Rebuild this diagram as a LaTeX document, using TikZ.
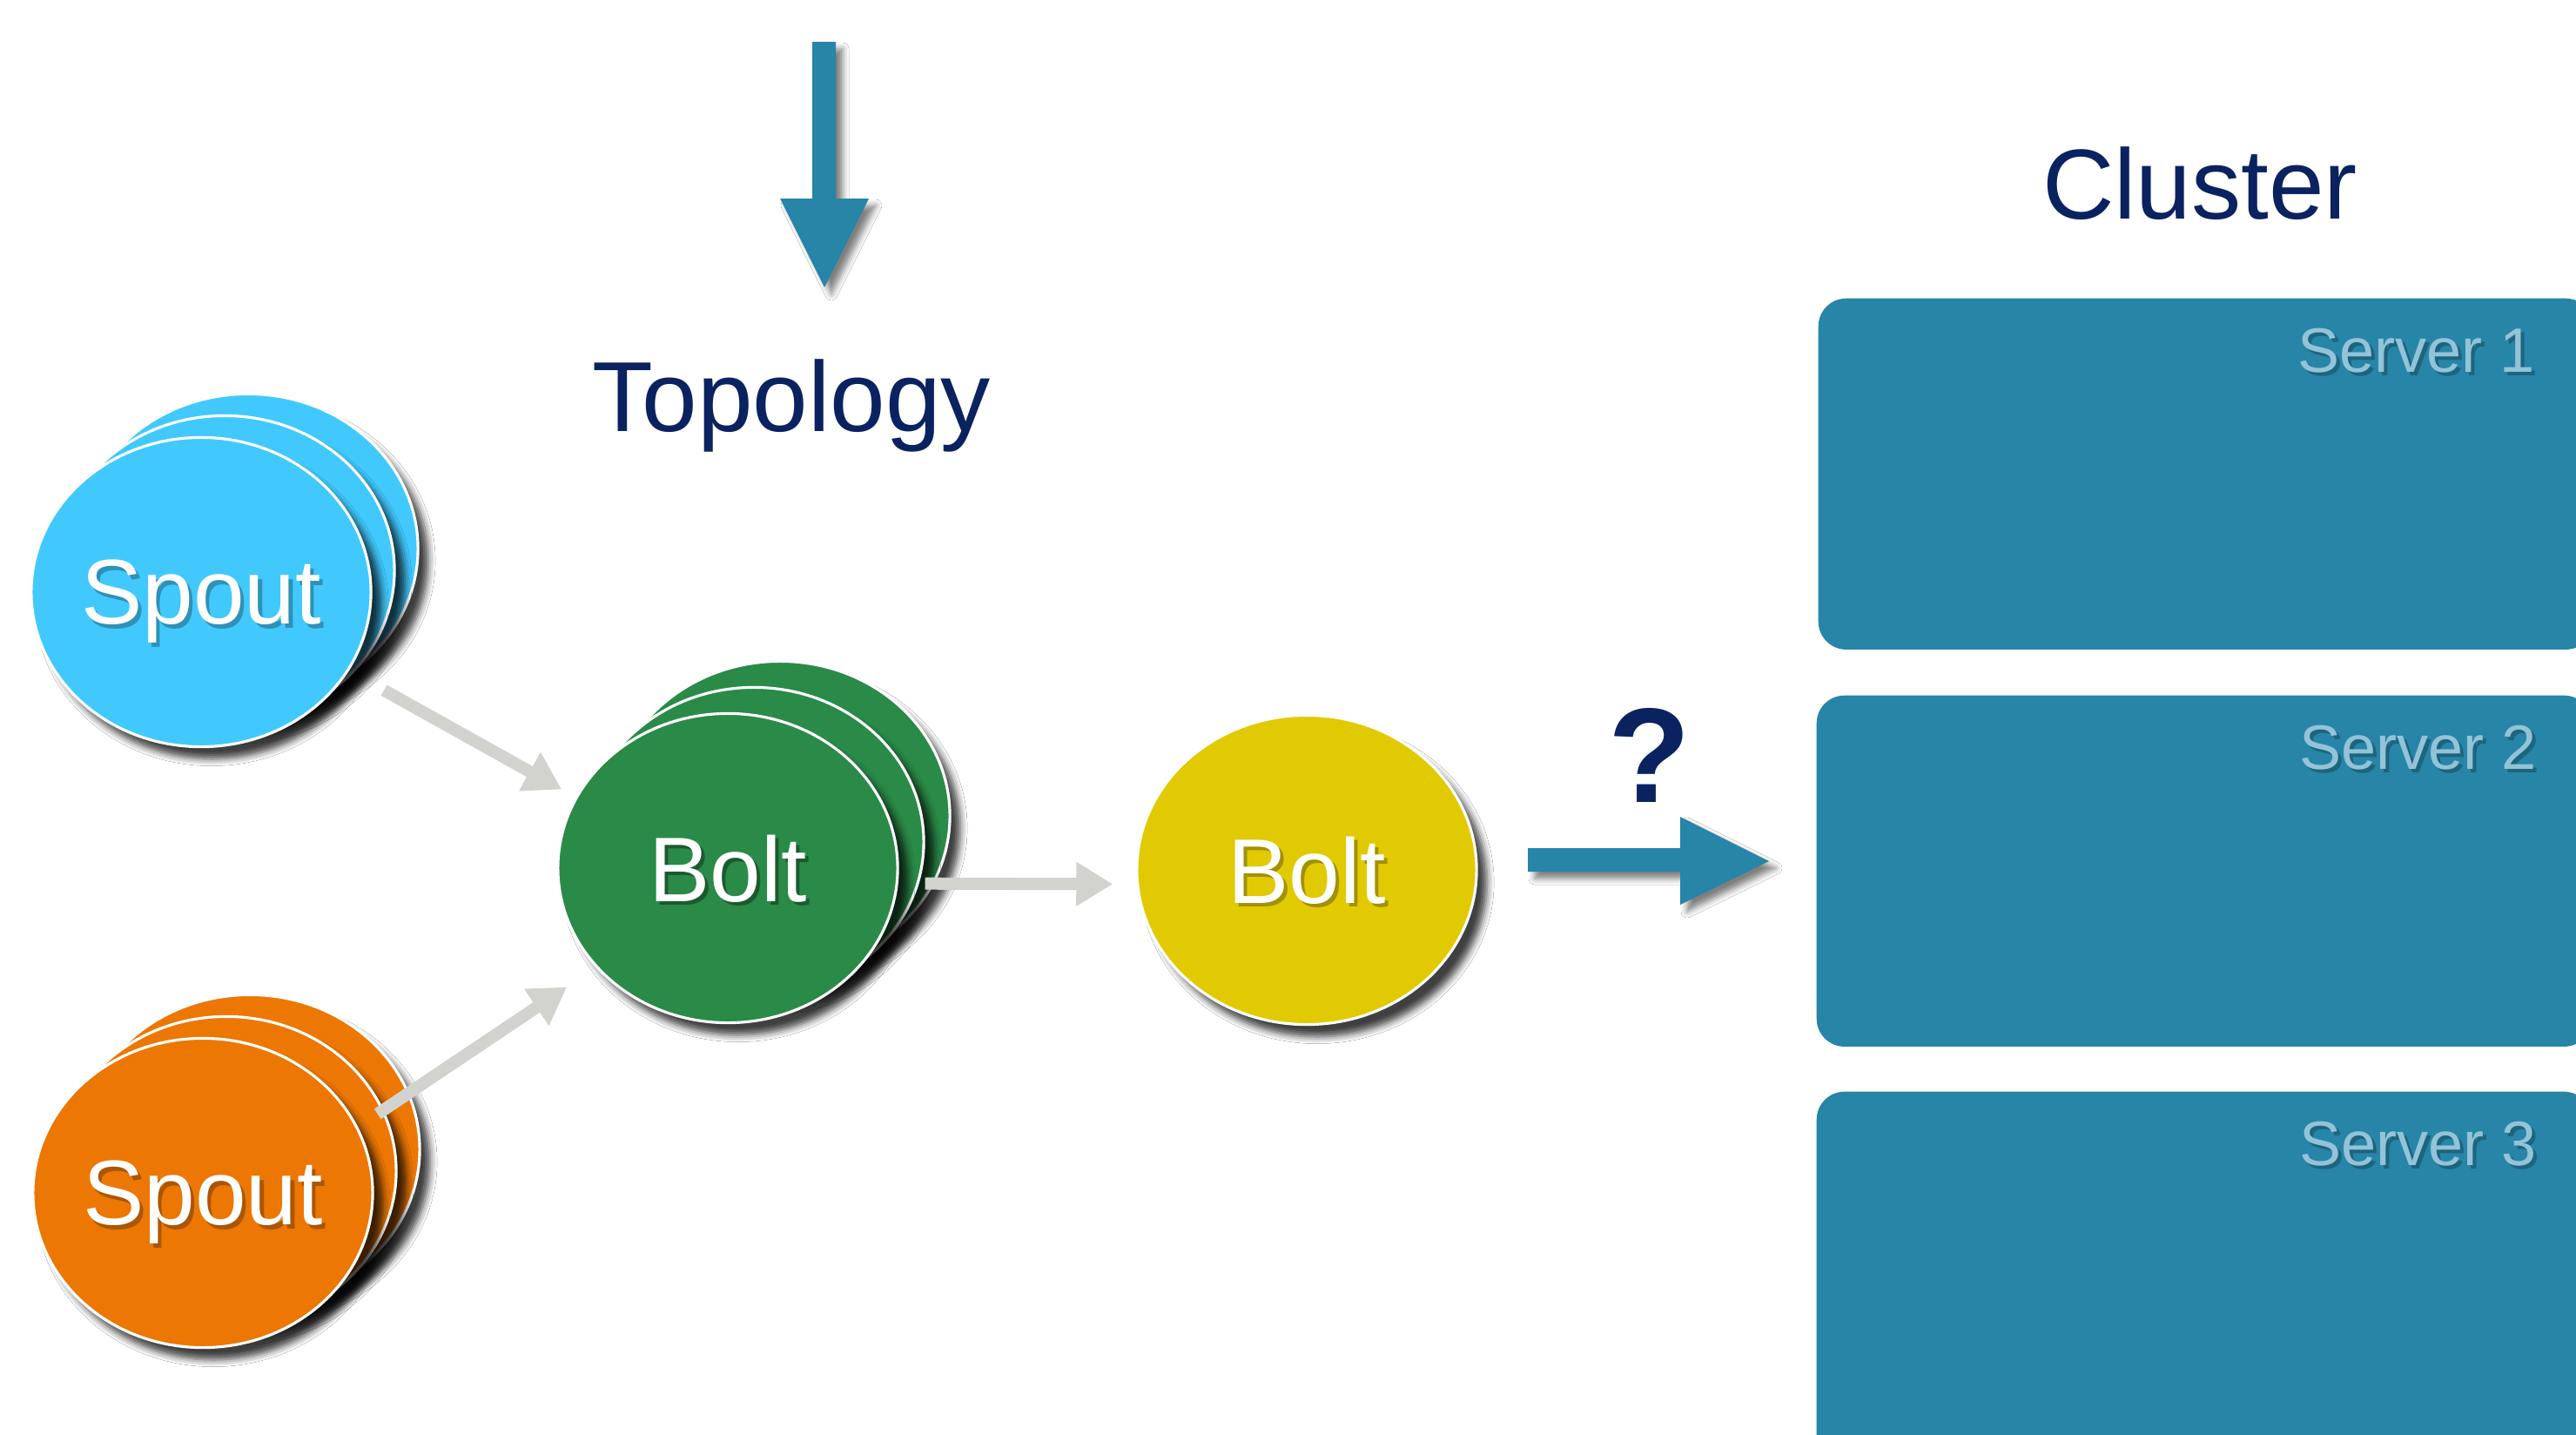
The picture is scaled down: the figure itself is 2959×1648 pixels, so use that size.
\documentclass[tikz,border=0pt]{standalone}
\usepackage{fontspec}
\setmainfont{Liberation Sans}
\usetikzlibrary{shapes.geometric,arrows.meta,shadows.blur,calc}

\definecolor{spoutblue}{HTML}{41C9FE}
\definecolor{spoutorange}{HTML}{EC7703}
\definecolor{boltgreen}{HTML}{2A8A48}
\definecolor{boltyellow}{HTML}{E1CA02}
\definecolor{steel}{HTML}{2785A7}
\definecolor{serverlabel}{HTML}{93C3D8}
\definecolor{navy}{HTML}{0B2260}
\definecolor{flowgray}{HTML}{D2D3CE}

% white label text with a soft darker copy underneath
\newcommand\castlabel[2]{\leavevmode\rlap{\kern1.2pt\raisebox{-1.3pt}{\textcolor{#1}{#2}}}#2}

\begin{document}
\begin{tikzpicture}[x=0.01cm, y=-0.01cm,
  disc/.style={ellipse, draw=white, line width=0.9pt, inner sep=0pt,
    minimum width=3.9cm, minimum height=3.55cm,
    blur shadow={shadow xshift=0.12cm, shadow yshift=-0.14cm,
      shadow blur radius=0.08cm, shadow opacity=75}},
  disctext/.style={text=white, font=\fontsize{30}{30}\selectfont, text depth=0pt},
  flow/.style={draw=flowgray, line width=0.14cm,
    -{Triangle[length=0.42cm, width=0.48cm]}},
  blockarrow/.style={fill=steel,
    blur shadow={shadow xshift=0.08cm, shadow yshift=-0.08cm,
      shadow blur radius=0.07cm, shadow opacity=50}},
  serverbox/.style={fill=steel, rounded corners=0.32cm, anchor=north west,
    minimum width=8.9cm, minimum height=4.03cm, inner sep=0pt},
  servername/.style={text=serverlabel, font=\fontsize{20.5}{20.5}\selectfont, anchor=base east},
  heading/.style={text=navy, font=\fontsize{32.5}{32.5}\selectfont, anchor=base}
]
\useasboundingbox (0,0) rectangle (2959,1648);
\fill[white] (0,0) rectangle (2959,1648);
\clip (0,0) rectangle (2959,1648);

% incoming topology arrow
\path[blockarrow] (933,48) -- (960,48) -- (960,228) -- (998,228) -- (947,330)
  -- (896,228) -- (933,228) -- cycle;

% titles
\node[heading] (topology) at (909,495) {Topology};
\node[heading] (cluster) at (2527,251) {Cluster};

% cluster servers
\node[serverbox] (server1) at (2088,342) {};
\node[serverbox] (server2) at (2086,798) {};
\node[serverbox, minimum height=5cm] (server3) at (2086,1253) {};
\node[servername] (label1) at (2924,427) {\castlabel{steel!75!black}{Server 1}};
\node[servername] (label2) at (2926,883) {\castlabel{steel!75!black}{Server 2}};
\node[servername] (label3) at (2926,1338) {\castlabel{steel!75!black}{Server 3}};

% spout stack (blue)
\node[disc, fill=spoutblue] (spoutAback) at (285,630) {};
\node[disc, fill=spoutblue] (spoutAmid) at (258,655) {};
\node[disc, fill=spoutblue, disctext] (spoutA) at (231,680)
  {\castlabel{spoutblue!72!black}{Spout}};

% spout stack (orange)
\node[disc, fill=spoutorange] (spoutBback) at (287,1320) {};
\node[disc, fill=spoutorange] (spoutBmid) at (260,1345) {};
\node[disc, fill=spoutorange, disctext] (spoutB) at (233,1370)
  {\castlabel{spoutorange!72!black}{Spout}};

% bolt stack (green)
\node[disc, fill=boltgreen] (boltAback) at (896,937) {};
\node[disc, fill=boltgreen] (boltAmid) at (866,967) {};
\node[disc, fill=boltgreen, disctext] (boltA) at (836,997)
  {\castlabel{boltgreen!65!black}{Bolt}};

% single bolt (yellow)
\node[disc, fill=boltyellow, disctext] (boltB) at (1501,999)
  {\castlabel{boltyellow!72!black}{Bolt}};

% stream connections
\draw[flow, shorten <=0.46cm, shorten >=0.18cm] (spoutA.-28.6) -- (boltA.155.8);
\draw[flow, shorten <=0.27cm, shorten >=0.40cm] (spoutB.23) -- (boltA.217.5);
\draw[flow, transform canvas={yshift=-0.17cm}, shorten <=0.30cm, shorten >=0.26cm]
  (boltA) -- (boltB);

% assignment to the cluster
\node[text=navy, font=\bfseries\fontsize{44}{44}\selectfont, anchor=base] (question)
  at (1895,921) {?};
\path[blockarrow] (1755,974) -- (1930,974) -- (1930,938) -- (2032,989)
  -- (1930,1039) -- (1930,1001) -- (1755,1001) -- cycle;
\end{tikzpicture}
\end{document}
